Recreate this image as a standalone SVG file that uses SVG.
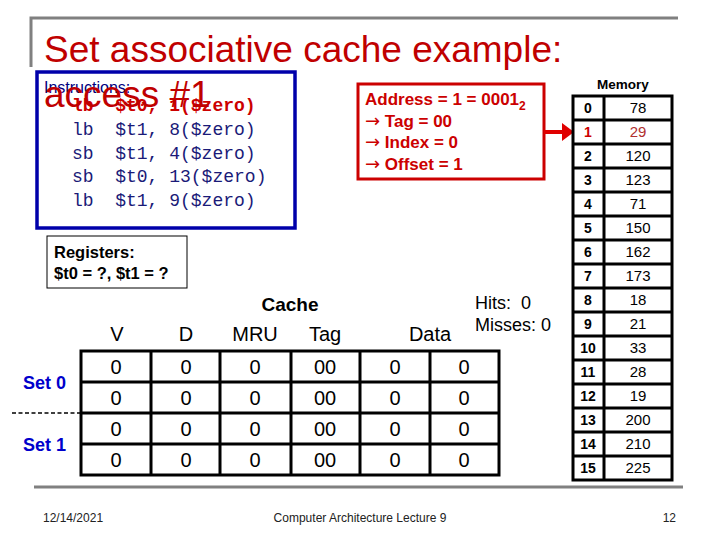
<svg xmlns="http://www.w3.org/2000/svg" width="720" height="540" viewBox="0 0 720 540">
<style>
text{font-family:"Liberation Sans",Arial,sans-serif}
.code{font-family:"Liberation Mono","Courier New",monospace;font-size:18px;fill:#1A1A78}
.mi{font-size:14px;font-weight:bold;text-anchor:middle}
.mv{font-size:15px;text-anchor:middle}
.cv{font-size:20px;text-anchor:middle}
.hd{font-size:20px;text-anchor:middle}
.addr{font-size:17px;font-weight:bold;fill:#CC0000}
.arr{font-family:"DejaVu Sans",sans-serif;font-weight:normal;font-size:18px}
.set{font-size:18px;font-weight:bold;fill:#0000CC}
.foot{font-size:12px;fill:#222}
.grid{stroke:#000;stroke-width:3;fill:none}
</style>
<rect width="720" height="540" fill="#fff"/>
<g id="frame" stroke="#808080" stroke-width="3" fill="none">
<polyline points="31,67 31,18 678,18"/>
<line x1="34" y1="487" x2="683" y2="487"/>
</g>
<g id="title">
<text x="44" y="62" font-size="37" fill="#C00000">Set associative cache example:</text>
</g>
<g id="instructions">
<rect x="37" y="72" width="258" height="156" fill="none" stroke="#0000AA" stroke-width="3.5"/>
<text x="44" y="93" font-size="16" fill="#000080">Instructions:</text>
<text x="72" y="111" class="code" style="fill:#CC0000;font-weight:bold" xml:space="preserve">lb  $t0, 1($zero)</text>
<text x="72" y="135" class="code" xml:space="preserve">lb  $t1, 8($zero)</text>
<text x="72" y="159" class="code" xml:space="preserve">sb  $t1, 4($zero)</text>
<text x="72" y="182" class="code" xml:space="preserve">sb  $t0, 13($zero)</text>
<text x="72" y="206" class="code" xml:space="preserve">lb  $t1, 9($zero)</text>
<text x="44" y="107" font-size="37" fill="#C00000">access #1</text>
</g>
<g id="address">
<rect x="358" y="84" width="186" height="95" fill="none" stroke="#CC0000" stroke-width="3"/>
<text x="365" y="105" class="addr">Address = 1 = 0001<tspan font-size="12" dy="5">2</tspan></text>
<text x="365" y="127" class="addr"><tspan class="arr">→</tspan> Tag = 00</text>
<text x="365" y="148" class="addr"><tspan class="arr">→</tspan> Index = 0</text>
<text x="365" y="170" class="addr"><tspan class="arr">→</tspan> Offset = 1</text>
</g>
<g id="connectors">
<line x1="544" y1="132" x2="563" y2="132" stroke="#E00000" stroke-width="4"/>
<polygon points="562,123 574,132 562,141" fill="#E00000"/>
<line x1="12" y1="413" x2="81" y2="413" stroke="#000" stroke-width="1.5" stroke-dasharray="4,2.5"/>
</g>
<g id="registers">
<rect x="47" y="236" width="140" height="52" fill="none" stroke="#000" stroke-width="1"/>
<text x="54" y="258" font-size="16.5" font-weight="bold">Registers:</text>
<text x="54" y="279" font-size="16.5" font-weight="bold">$t0 = ?, $t1 = ?</text>
</g>
<g id="memory">
<text x="623" y="89" font-size="13.5" font-weight="bold" text-anchor="middle">Memory</text>
<rect x="573" y="96" width="99" height="384" class="grid"/>
<line x1="604" y1="96" x2="604" y2="480" class="grid"/>
<path class="grid" d="M573,120H672M573,144H672M573,168H672M573,192H672M573,216H672M573,240H672M573,264H672M573,288H672M573,312H672M573,336H672M573,360H672M573,384H672M573,408H672M573,432H672M573,456H672"/>
<text x="588" y="113" class="mi">0</text><text x="638" y="113" class="mv">78</text>
<text x="588" y="137" class="mi" fill="#CC0000">1</text><text x="638" y="137" class="mv" fill="#B03030">29</text>
<text x="588" y="161" class="mi">2</text><text x="638" y="161" class="mv">120</text>
<text x="588" y="185" class="mi">3</text><text x="638" y="185" class="mv">123</text>
<text x="588" y="209" class="mi">4</text><text x="638" y="209" class="mv">71</text>
<text x="588" y="233" class="mi">5</text><text x="638" y="233" class="mv">150</text>
<text x="588" y="257" class="mi">6</text><text x="638" y="257" class="mv">162</text>
<text x="588" y="281" class="mi">7</text><text x="638" y="281" class="mv">173</text>
<text x="588" y="305" class="mi">8</text><text x="638" y="305" class="mv">18</text>
<text x="588" y="329" class="mi">9</text><text x="638" y="329" class="mv">21</text>
<text x="588" y="353" class="mi">10</text><text x="638" y="353" class="mv">33</text>
<text x="588" y="377" class="mi">11</text><text x="638" y="377" class="mv">28</text>
<text x="588" y="401" class="mi">12</text><text x="638" y="401" class="mv">19</text>
<text x="588" y="425" class="mi">13</text><text x="638" y="425" class="mv">200</text>
<text x="588" y="449" class="mi">14</text><text x="638" y="449" class="mv">210</text>
<text x="588" y="473" class="mi">15</text><text x="638" y="473" class="mv">225</text>
</g>
<g id="stats">
<text x="475" y="309" font-size="18" xml:space="preserve">Hits:  0</text>
<text x="475" y="331" font-size="18">Misses: 0</text>
</g>
<g id="cache">
<text x="290" y="311" font-size="19" font-weight="bold" text-anchor="middle">Cache</text>
<text x="117" y="341" class="hd">V</text>
<text x="186" y="341" class="hd">D</text>
<text x="255" y="341" class="hd">MRU</text>
<text x="325" y="341" class="hd">Tag</text>
<text x="430" y="341" class="hd">Data</text>
<rect x="81" y="351" width="418" height="124" class="grid"/>
<path class="grid" d="M151,351V475M220,351V475M291,351V475M360,351V475M430,351V475M81,382H499M81,413H499M81,444H499"/>
<text x="116" y="374" class="cv">0</text><text x="186" y="374" class="cv">0</text><text x="255" y="374" class="cv">0</text><text x="325" y="374" class="cv">00</text><text x="395" y="374" class="cv">0</text><text x="464" y="374" class="cv">0</text>
<text x="116" y="405" class="cv">0</text><text x="186" y="405" class="cv">0</text><text x="255" y="405" class="cv">0</text><text x="325" y="405" class="cv">00</text><text x="395" y="405" class="cv">0</text><text x="464" y="405" class="cv">0</text>
<text x="116" y="436" class="cv">0</text><text x="186" y="436" class="cv">0</text><text x="255" y="436" class="cv">0</text><text x="325" y="436" class="cv">00</text><text x="395" y="436" class="cv">0</text><text x="464" y="436" class="cv">0</text>
<text x="116" y="467" class="cv">0</text><text x="186" y="467" class="cv">0</text><text x="255" y="467" class="cv">0</text><text x="325" y="467" class="cv">00</text><text x="395" y="467" class="cv">0</text><text x="464" y="467" class="cv">0</text>
</g>
<g id="sets">
<text x="23" y="389" class="set">Set 0</text>
<text x="23" y="451" class="set">Set 1</text>
</g>
<g id="footer">
<text x="43" y="522" class="foot">12/14/2021</text>
<text x="360" y="522" class="foot" text-anchor="middle">Computer Architecture Lecture 9</text>
<text x="676" y="522" class="foot" text-anchor="end">12</text>
</g>
</svg>
